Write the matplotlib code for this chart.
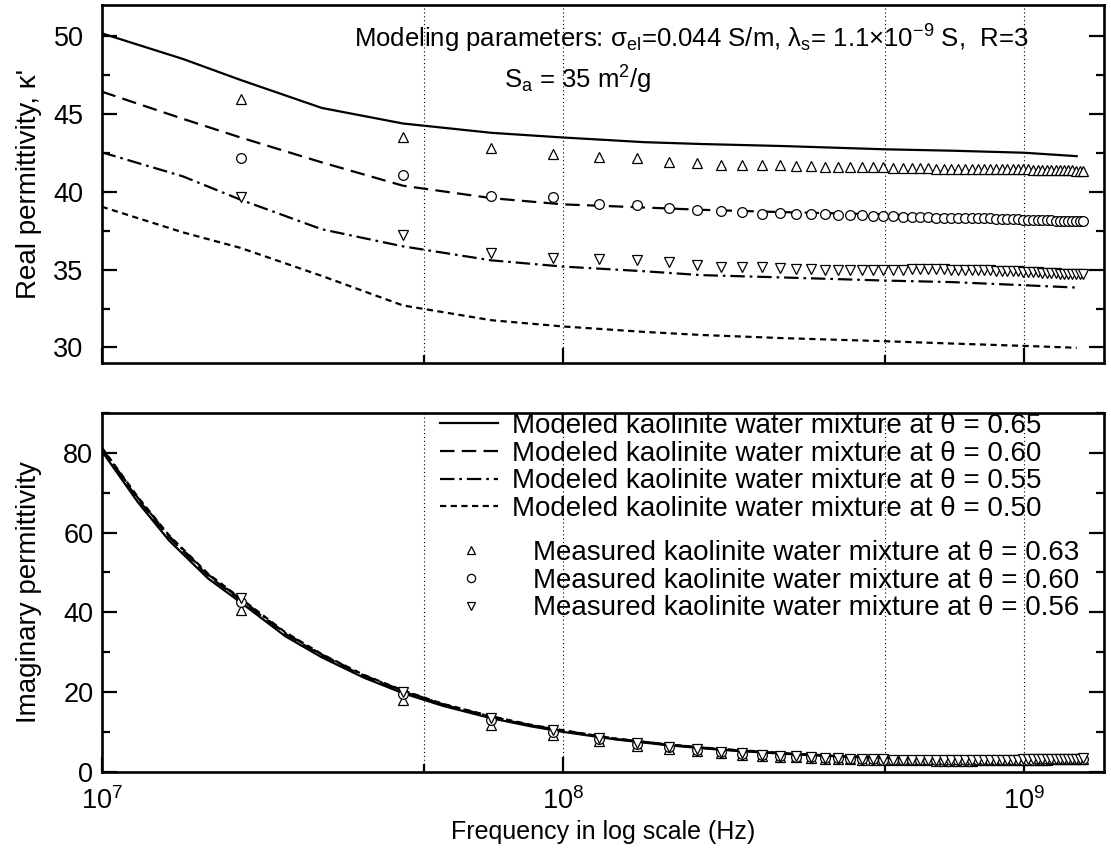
import matplotlib
matplotlib.use('Agg')
import matplotlib.pyplot as plt
from matplotlib.ticker import FixedLocator, AutoMinorLocator, LogFormatterMathtext, NullFormatter

plt.rcParams['font.family'] = ['Liberation Sans', 'DejaVu Sans']
plt.rcParams['mathtext.fontset'] = 'custom'
plt.rcParams['mathtext.rm'] = 'Liberation Sans'
plt.rcParams['mathtext.it'] = 'Liberation Sans:italic'
plt.rcParams['mathtext.bf'] = 'Liberation Sans:bold'

# ---------------- data ----------------
# modeled curves (frequency in MHz)
f_model = [10, 15, 20, 30, 45, 70, 100, 150, 200, 300, 500, 700, 1000, 1300]
real_model_065 = [50.2, 48.55, 47.2, 45.4, 44.4, 43.8, 43.5, 43.2, 43.08, 42.95, 42.74, 42.65, 42.52, 42.3]
real_model_060 = [46.45, 44.7, 43.5, 41.9, 40.4, 39.6, 39.2, 39.0, 38.85, 38.7, 38.55, 38.45, 38.35, 38.25]
real_model_055 = [42.55, 41.0, 39.5, 37.6, 36.5, 35.6, 35.2, 34.9, 34.65, 34.5, 34.3, 34.2, 34.0, 33.85]
real_model_050 = [39.05, 37.4, 36.4, 34.6, 32.7, 31.75, 31.35, 31.0, 30.8, 30.6, 30.4, 30.25, 30.1, 29.98]

f_model_im = [10, 12, 14, 17, 20, 25, 30, 37, 45, 55, 70, 85, 100, 130, 170, 220, 300, 400, 500, 700, 1000, 1300]
imag_model_065 = [80.5, 67.5, 58.0, 48.5, 42.5, 34.0, 28.7, 23.6, 19.7, 16.5, 13.4, 11.4, 10.0, 8.1, 6.6, 5.5, 4.5, 3.8, 3.4, 3.0, 2.8, 2.8]
imag_model_060 = [81.0, 68.3, 58.8, 49.2, 43.1, 34.6, 29.2, 24.0, 20.1, 16.8, 13.7, 11.6, 10.2, 8.2, 6.7, 5.6, 4.6, 3.9, 3.5, 3.1, 2.9, 2.9]
imag_model_055 = [81.2, 68.6, 59.1, 49.5, 43.3, 34.8, 29.4, 24.2, 20.3, 16.9, 13.8, 11.7, 10.3, 8.3, 6.8, 5.6, 4.6, 3.9, 3.5, 3.1, 2.9, 2.9]
imag_model_050 = [81.4, 68.8, 59.3, 49.7, 43.5, 35.0, 29.5, 24.3, 20.4, 17.0, 13.9, 11.8, 10.4, 8.3, 6.8, 5.7, 4.7, 3.9, 3.5, 3.1, 2.9, 2.9]

# measured data (frequency in MHz)
f_meas = [20, 45, 70, 95, 120, 145, 170, 195, 220, 245,
          270, 295, 320, 345, 370, 395, 420, 445, 470, 495,
          520, 545, 570, 595, 620, 645, 670, 695, 720, 745,
          770, 795, 820, 845, 870, 895, 920, 945, 970, 995,
          1020, 1045, 1070, 1095, 1120, 1145, 1170, 1195, 1220, 1245,
          1270, 1295, 1320, 1345]
real_meas_063 = [46.0, 43.55, 42.8, 42.45, 42.25, 42.15, 41.95, 41.85, 41.75, 41.75,
                 41.7, 41.7, 41.65, 41.65, 41.6, 41.6, 41.6, 41.6, 41.6, 41.6,
                 41.55, 41.55, 41.55, 41.55, 41.55, 41.5, 41.5, 41.5, 41.5, 41.5,
                 41.5, 41.5, 41.45, 41.45, 41.45, 41.45, 41.45, 41.45, 41.45, 41.45,
                 41.45, 41.4, 41.4, 41.4, 41.4, 41.4, 41.4, 41.4, 41.4, 41.4,
                 41.4, 41.35, 41.35, 41.35]
real_meas_060 = [42.15, 41.1, 39.75, 39.65, 39.2, 39.15, 38.95, 38.85, 38.75, 38.7,
                 38.6, 38.65, 38.6, 38.55, 38.55, 38.5, 38.5, 38.5, 38.45, 38.45,
                 38.45, 38.4, 38.4, 38.4, 38.4, 38.35, 38.35, 38.35, 38.35, 38.3,
                 38.3, 38.3, 38.3, 38.3, 38.25, 38.25, 38.25, 38.25, 38.25, 38.2,
                 38.2, 38.2, 38.2, 38.2, 38.2, 38.2, 38.15, 38.15, 38.15, 38.15,
                 38.15, 38.15, 38.15, 38.1]
real_meas_056 = [39.7, 37.25, 36.1, 35.75, 35.7, 35.6, 35.5, 35.3, 35.2, 35.2,
                 35.15, 35.1, 35.05, 35.05, 35.0, 35.0, 35.0, 35.0, 35.0, 35.0,
                 35.0, 35.0, 35.05, 35.05, 35.05, 35.05, 35.05, 35.0, 35.0, 35.0,
                 35.0, 34.95, 34.95, 34.95, 34.9, 34.9, 34.9, 34.9, 34.9, 34.85,
                 34.85, 34.85, 34.85, 34.8, 34.8, 34.8, 34.8, 34.75, 34.75, 34.75,
                 34.7, 34.7, 34.7, 34.7]
imag_meas_063 = [40.5, 18.0, 11.8, 9.2, 7.6, 6.5, 5.7, 5.1, 4.6, 4.3,
                 4.0, 3.8, 3.6, 3.45, 3.3, 3.2, 3.1, 3.05, 3.0, 2.95,
                 2.9, 2.9, 2.85, 2.85, 2.85, 2.8, 2.8, 2.8, 2.8, 2.8,
                 2.8, 2.85, 2.85, 2.85, 2.85, 2.9, 2.9, 2.9, 2.95, 2.95,
                 3.0, 3.0, 3.0, 3.05, 3.05, 3.1, 3.1, 3.1, 3.15, 3.15,
                 3.2, 3.2, 3.25, 3.3]
imag_meas_060 = [42.5, 19.5, 13.0, 10.0, 8.2, 7.0, 6.1, 5.4, 4.9, 4.5,
                 4.2, 3.95, 3.75, 3.6, 3.45, 3.35, 3.25, 3.15, 3.1, 3.05,
                 3.0, 2.95, 2.95, 2.9, 2.9, 2.9, 2.9, 2.9, 2.9, 2.9,
                 2.9, 2.9, 2.95, 2.95, 2.95, 2.95, 3.0, 3.0, 3.0, 3.05,
                 3.05, 3.05, 3.1, 3.1, 3.1, 3.15, 3.15, 3.2, 3.2, 3.2,
                 3.25, 3.25, 3.3, 3.3]
imag_meas_056 = [43.5, 20.0, 13.5, 10.4, 8.5, 7.2, 6.3, 5.6, 5.0, 4.6,
                 4.3, 4.05, 3.85, 3.65, 3.5, 3.4, 3.3, 3.2, 3.15, 3.1,
                 3.05, 3.0, 3.0, 2.95, 2.95, 2.95, 2.95, 2.95, 2.95, 2.95,
                 2.95, 3.0, 3.0, 3.0, 3.0, 3.0, 3.05, 3.05, 3.05, 3.1,
                 3.1, 3.1, 3.15, 3.15, 3.15, 3.2, 3.2, 3.2, 3.25, 3.25,
                 3.3, 3.3, 3.3, 3.35]

model_labels = ["Modeled kaolinite water mixture at \u03b8 = 0.65",
                "Modeled kaolinite water mixture at \u03b8 = 0.60",
                "Modeled kaolinite water mixture at \u03b8 = 0.55",
                "Modeled kaolinite water mixture at \u03b8 = 0.50"]
meas_labels = ["Measured kaolinite water mixture at \u03b8 = 0.63",
               "Measured kaolinite water mixture at \u03b8 = 0.60",
               "Measured kaolinite water mixture at \u03b8 = 0.56"]

# ---------------- styles ----------------
W, H = 1111, 858
fig = plt.figure(figsize=(W / 100, H / 100), dpi=100)

def fx(px):
    return px / W

def fy(py):
    return 1 - py / H

AX_L, AX_R = 101.7, 1104
ax1 = fig.add_axes([fx(AX_L), fy(363), fx(AX_R) - fx(AX_L), fy(5.3) - fy(363)])
ax2 = fig.add_axes([fx(AX_L), fy(771.7), fx(AX_R) - fx(AX_L), fy(413) - fy(771.7)])

lw = 1.6
line_styles = ['-', (0, (6.5, 3.3)), (0, (6.5, 2.2, 1.2, 2.2)), (0, (2.8, 2.0))]
marker_kw = [dict(marker='^', ms=7.5), dict(marker='o', ms=7.0), dict(marker='v', ms=7.5)]

fm_hz = [v * 1e6 for v in f_model]
fmi_hz = [v * 1e6 for v in f_model_im]
fmeas_hz = [v * 1e6 for v in f_meas]

real_models = [real_model_065, real_model_060, real_model_055, real_model_050]
imag_models = [imag_model_065, imag_model_060, imag_model_055, imag_model_050]
real_meas = [real_meas_063, real_meas_060, real_meas_056]
imag_meas = [imag_meas_063, imag_meas_060, imag_meas_056]

for vals, ls in zip(real_models, line_styles):
    ax1.plot(fm_hz, vals, color='black', lw=lw, linestyle=ls)
for vals, mk in zip(real_meas, marker_kw):
    ax1.plot(fmeas_hz, vals, linestyle='none', mfc='white', mec='black', mew=0.9, **mk)

line_handles = []
for vals, ls, lab in zip(imag_models, line_styles, model_labels):
    h, = ax2.plot(fmi_hz, vals, color='black', lw=lw, linestyle=ls, label=lab)
    line_handles.append(h)
marker_handles = []
for vals, mk, lab in zip(imag_meas, marker_kw, meas_labels):
    h, = ax2.plot(fmeas_hz, vals, linestyle='none', mfc='white', mec='black', mew=0.9, label=lab, **mk)
    marker_handles.append(h)

for ax in (ax1, ax2):
    ax.set_xscale('log')
    ax.set_xlim(1e7, 1.49e9)
    ax.xaxis.set_major_locator(FixedLocator([1e7, 1e8, 1e9]))
    ax.xaxis.set_minor_locator(FixedLocator([5e7, 5e8]))
    ax.xaxis.set_minor_formatter(NullFormatter())
    for x in [5e7, 1e8, 5e8, 1e9]:
        ax.axvline(x, color='black', lw=0.8, linestyle=(0, (1, 2.5)), zorder=0)
    ax.tick_params(axis='both', which='major', direction='in', length=11, width=1.6,
                   labelsize=19.5, right=True, top=False)
    ax.tick_params(axis='both', which='minor', direction='in', length=5.5, width=1.6,
                   right=True, top=False)
    ax.yaxis.set_minor_locator(AutoMinorLocator(2))
    for sp in ax.spines.values():
        sp.set_linewidth(1.9)

ax1.set_ylim(29.0, 52.0)
ax1.set_yticks([30, 35, 40, 45, 50])
ax1.tick_params(axis='x', which='both', labelbottom=False)
ax1.tick_params(axis='y', which='major', pad=13)

ax2.set_ylim(0, 90)
ax2.set_yticks([0, 20, 40, 60, 80])
ax2.xaxis.set_major_formatter(LogFormatterMathtext())
ax2.tick_params(axis='x', which='major', pad=11)
ax2.tick_params(axis='y', which='major', pad=6)

ax1.set_ylabel("Real permittivity, \u03ba'", fontsize=20)
ax2.set_ylabel("Imaginary permittivity", fontsize=20)
lab_x = (42 - AX_L) / (AX_R - AX_L)
ax1.yaxis.set_label_coords(lab_x, 0.5)
ax2.yaxis.set_label_coords(lab_x, 0.5)
ax2.set_xlabel("Frequency in log scale (Hz)", fontsize=18, labelpad=4)

ax1.text(fx(691), fy(48), "Modeling parameters: \u03c3$_{\\mathregular{el}}$=0.044 S/m, \u03bb$_{\\mathregular{s}}$= 1.1\u00d710$^{\\mathregular{-9}}$ S,  R=3",
         transform=fig.transFigure, ha='center', va='baseline', fontsize=18.5)
ax1.text(fx(578), fy(89), "S$_{\\mathregular{a}}$ = 35 m$^{\\mathregular{2}}$/g",
         transform=fig.transFigure, ha='center', va='baseline', fontsize=18.5)

leg_fs = 20
leg1 = ax2.legend(handles=line_handles, loc='upper left', bbox_to_anchor=(fx(440), fy(413)),
                  bbox_transform=fig.transFigure, frameon=False, fontsize=leg_fs,
                  handlelength=2.1, handletextpad=0.5, labelspacing=0.06,
                  borderpad=0, borderaxespad=0)
ax2.add_artist(leg1)
ax2.legend(handles=marker_handles, loc='upper left', bbox_to_anchor=(fx(449), fy(540)),
           bbox_transform=fig.transFigure, frameon=False, fontsize=leg_fs,
           handlelength=1.6, handletextpad=1.42, labelspacing=0.06,
           borderpad=0, borderaxespad=0, markerscale=0.85)

fig.savefig('out.png', dpi=100)
